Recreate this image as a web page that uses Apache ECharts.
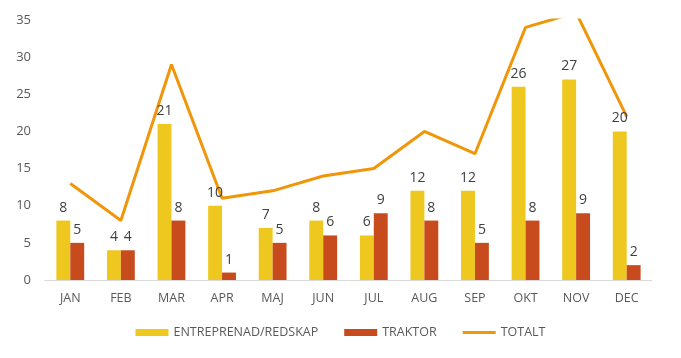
<!DOCTYPE html>
<html><head><meta charset="utf-8">
<script src="https://cdn.jsdelivr.net/npm/echarts@6/dist/echarts.min.js"></script>
<style>html,body{margin:0;padding:0;background:#fff}#c{width:681px;height:358px}</style>
</head><body><div id="c"></div>
<script>
const categories = ['JAN','FEB','MAR','APR','MAJ','JUN','JUL','AUG','SEP','OKT','NOV','DEC'];
const entreprenad = [8,4,21,10,7,8,6,12,12,26,27,20];
const traktor = [5,4,8,1,5,6,9,8,5,8,9,2];
const totalt = [13,8,29,11,12,14,15,20,17,34,36,22];
const font = 'Open Sans';
const chart = echarts.init(document.getElementById('c'));
chart.setOption({
  animation: false,
  textStyle: {fontFamily: font},
  grid: {left: 45, right: 29, top: 20, bottom: 78, containLabel: false},
  legend: {
    bottom: 14, left: 'center', itemWidth: 33, itemHeight: 7, itemGap: 26,
    symbolKeepAspect: true,
    textStyle: {color: '#595959', fontSize: 12.5, fontFamily: font},
    data: [{name:'ENTREPRENAD/REDSKAP', icon:'rect'},{name:'TRAKTOR', icon:'rect'},
           {name:'TOTALT', icon:'path://M0,0L33,0L33,3L0,3Z', itemStyle:{color:'#F0960A', borderWidth:0}}]
  },
  xAxis: {
    type: 'category', data: categories,
    axisLine: {lineStyle: {color: '#D9D9D9', width: 1}},
    axisTick: {show: false},
    axisLabel: {color: '#595959', fontSize: 12.5, margin: 12}
  },
  yAxis: {
    type: 'value', min: 0, max: 35, interval: 5,
    splitLine: {show: false},
    axisLine: {show: false}, axisTick: {show: false},
    axisLabel: {color: '#595959', fontSize: 13, margin: 14}
  },
  series: [
    {name:'ENTREPRENAD/REDSKAP', type:'bar', data: entreprenad, barGap: '0%', barCategoryGap: '45%',
     itemStyle:{color:'#EFC81F'},
     label:{show:true, position:'top', color:'#404040', fontSize:14, distance:6}},
    {name:'TRAKTOR', type:'bar', data: traktor,
     itemStyle:{color:'#C84B1E'},
     label:{show:true, position:'top', color:'#404040', fontSize:14, distance:6}},
    {name:'TOTALT', type:'line', data: totalt, symbol:'none',
     lineStyle:{color:'#F0960A', width:3}, itemStyle:{color:'#F0960A'}, z: 1}
  ]
});
</script></body></html>
